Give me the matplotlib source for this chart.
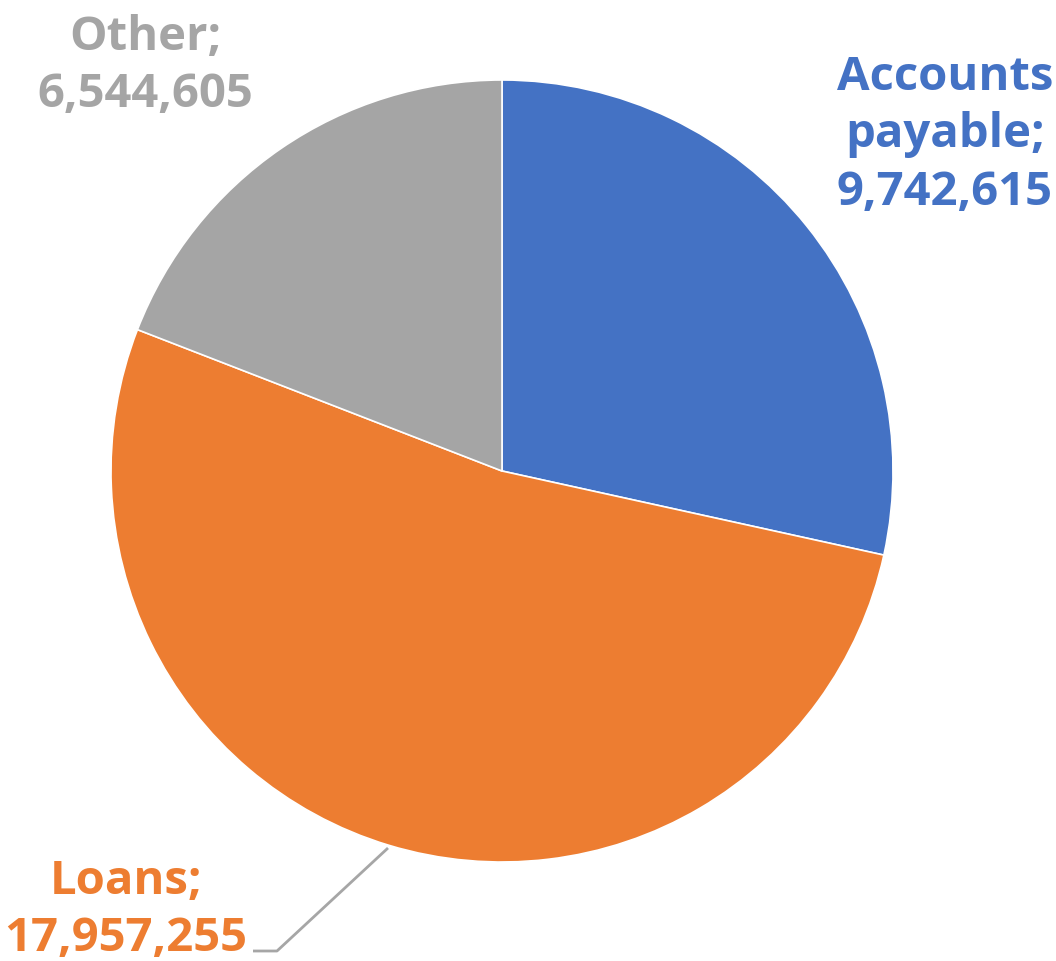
import matplotlib
matplotlib.use("Agg")
import matplotlib.pyplot as plt

# data
categories = ["Accounts payable", "Loans", "Other"]
values = [9742615, 17957255, 6544605]
colors = ["#4472C4", "#ED7D31", "#A5A5A5"]

W, H = 1056, 961
fig = plt.figure(figsize=(W / 100, H / 100), dpi=100)
ax = fig.add_axes([0, 0, 1, 1])
ax.set_xlim(0, W)
ax.set_ylim(0, H)
ax.set_aspect("equal")
ax.axis("off")

cx, cy, r = 502, H - 471, 391
ax.pie(values, colors=colors, startangle=90, counterclock=False,
       center=(cx, cy), radius=r, frame=True,
       wedgeprops=dict(edgecolor="white", linewidth=1.2))
ax.set_xlim(0, W)
ax.set_ylim(0, H)
ax.axis("off")

def lab(i, wrap=False):
    name = categories[i]
    if wrap:
        name = name.replace(" ", "\n")
    return f"{name};\n{values[i]:,}"

font = dict(family=["Open Sans", "DejaVu Sans"], fontweight="bold",
            fontsize=34, ha="center", va="center", linespacing=1.3)

ax.text(945, H - 135, lab(0, wrap=True), color=colors[0], **font)
ax.text(145, H - 66, lab(2), color=colors[2], **font)
ax.text(126, H - 910, lab(1), color=colors[1], **font)

# leader line for Loans
ax.plot([253, 277, 388], [H - 951, H - 951, H - 848],
        color="#A6A6A6", linewidth=2, solid_capstyle="butt")

fig.savefig("out.png", dpi=100)
